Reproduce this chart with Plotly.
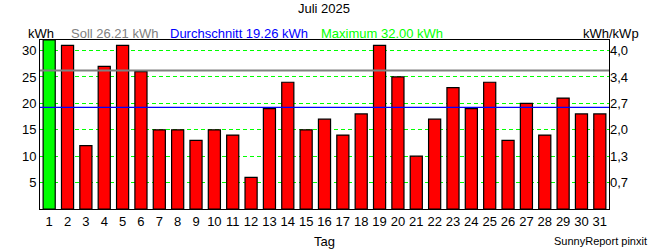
import plotly.graph_objects as go

# ---- data ----
days = list(range(1, 32))
energy_kwh = [32, 31, 12, 27, 31, 26, 15, 15, 13, 15, 14, 6, 19, 24, 15, 17,
              14, 18, 31, 25, 10, 17, 23, 19, 24, 13, 20, 14, 21, 18, 18]
soll_kwh = 26.21
avg_kwh = 19.26
max_kwh = 32.00
left_ticks = [5, 10, 15, 20, 25, 30]
right_ticklabels = ["0,7", "1,3", "2,0", "2,7", "3,4", "4,0"]
title_text = "Juli 2025"

FONT = "Liberation Sans, Arial, sans-serif"
W, H = 650, 250
L, R, T, B = 40, 609, 40, 209

def px(x):
    return (x - L) / (R - L)

def py(y):
    return (B - y) / (B - T)

colors = ["#00FF00" if v == max(energy_kwh) else "#FF0000" for v in energy_kwh]

fig = go.Figure()
fig.add_trace(go.Bar(
    x=days, y=energy_kwh,
    marker=dict(color=colors, line=dict(color="black", width=1.2)),
    width=0.66, hoverinfo="skip", showlegend=False,
))
# invisible trace for the right axis
fig.add_trace(go.Scatter(x=[days[0]], y=[0], yaxis="y2", mode="markers",
                         marker=dict(opacity=0), showlegend=False, hoverinfo="skip"))

fig.add_shape(type="line", xref="paper", yref="y", x0=0, x1=1, y0=soll_kwh, y1=soll_kwh,
              line=dict(color="#808080", width=2), layer="above")
fig.add_shape(type="line", xref="paper", yref="y", x0=0, x1=1, y0=avg_kwh, y1=avg_kwh,
              line=dict(color="#0000FF", width=1.2), layer="above")

ann = []
def text(x, y, s, color="black", size=13, xanchor="left"):
    ann.append(dict(x=px(x), y=py(y), xref="paper", yref="paper", text=s, showarrow=False,
                    xanchor=xanchor, yanchor="middle", font=dict(family=FONT, size=size, color=color)))

text(323.5, 9, title_text, xanchor="center")
text(26, 33, "kWh")
text(69, 33, f"Soll {soll_kwh:.2f} kWh", color="#808080")
text(168, 33, f"Durchschnitt {avg_kwh:.2f} kWh", color="#0000FF")
text(319, 33, f"Maximum {max_kwh:.2f} kWh", color="#00FF00")
text(581, 33, "kWh/kWp")
text(324, 242, "Tag", xanchor="center")
text(649, 241, "SunnyReport pinxit", size=11, xanchor="right")

fig.update_layout(
    width=W, height=H,
    margin=dict(l=L, r=W - R, t=T, b=H - B, pad=0),
    paper_bgcolor="white", plot_bgcolor="white",
    bargap=0.34,
    annotations=ann,
    font=dict(family=FONT, size=13, color="black"),
    xaxis=dict(range=[0.5, 31.5], tickmode="array", tickvals=days, ticktext=[str(d) for d in days],
               showgrid=False, zeroline=False, showline=True, mirror=True, linecolor="black",
               linewidth=1, ticks="", tickfont=dict(family=FONT, size=13), fixedrange=True),
    yaxis=dict(range=[0, max_kwh], tickmode="array", tickvals=left_ticks,
               ticktext=[str(t) for t in left_ticks],
               showgrid=True, gridcolor="#00FF00", griddash="4px,3px", gridwidth=1,
               zeroline=False, showline=True, mirror=True, linecolor="black", linewidth=1,
               ticks="", tickfont=dict(family=FONT, size=13), fixedrange=True),
    yaxis2=dict(range=[0, max_kwh], overlaying="y", side="right", tickmode="array",
                tickvals=left_ticks, ticktext=right_ticklabels, showgrid=False, zeroline=False,
                showline=False, ticks="", tickfont=dict(family=FONT, size=13), fixedrange=True),
)

fig.write_html("out.html")
